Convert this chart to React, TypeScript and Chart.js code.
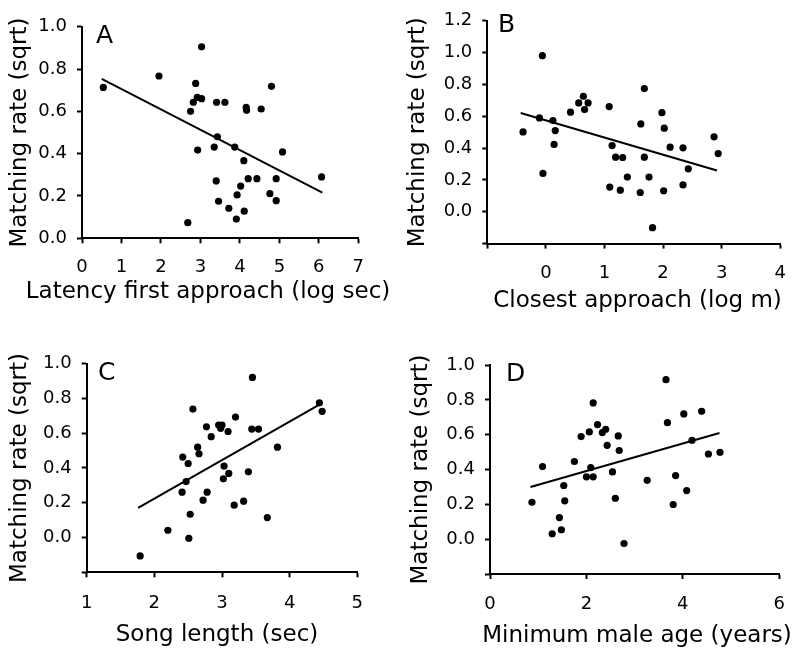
import React, { useEffect, useRef } from "react";
import { Chart, registerables } from "chart.js";
Chart.register(...registerables);

const FONT = "'DejaVu Sans', Verdana, sans-serif";

// ---------- Panel A: latency of first approach ----------
const latencyX = [0.54, 1.95, 3.03, 2.88, 2.82, 2.92, 3.03, 2.75, 3.41, 3.62, 4.8, 4.16, 4.17, 4.54, 3.43, 3.35, 2.93, 3.87, 5.08, 4.1, 3.4, 4.21, 4.43, 4.92, 6.07, 4.02, 3.93, 4.76, 3.46, 4.92, 3.72, 4.11, 3.91, 2.68];
const latencyY = [0.713, 0.767, 0.905, 0.732, 0.643, 0.666, 0.66, 0.6, 0.643, 0.643, 0.718, 0.619, 0.605, 0.611, 0.48, 0.431, 0.417, 0.431, 0.408, 0.367, 0.271, 0.282, 0.282, 0.282, 0.29, 0.247, 0.205, 0.211, 0.175, 0.178, 0.142, 0.128, 0.091, 0.074];
const latencyFitX = [0.5, 6.09];
const latencyFitY = [0.753, 0.216];

// ---------- Panel B: closest approach ----------
const closestX = [-0.39, -0.11, -0.06, -0.05, 0.12, 0.16, 0.14, 0.42, 0.56, 0.64, 0.72, 0.66, 1.08, 1.13, 1.09, 1.19, 1.31, 1.27, 1.39, 1.68, 1.62, 1.68, 1.76, 1.61, 1.98, 2.02, 1.82, 2.12, 2.01, 2.34, 2.43, 2.34, 2.87, 2.94];
const closestY = [0.502, 0.59, 0.981, 0.241, 0.573, 0.51, 0.423, 0.626, 0.684, 0.726, 0.684, 0.642, 0.661, 0.416, 0.155, 0.343, 0.341, 0.136, 0.218, 0.774, 0.552, 0.343, 0.218, 0.121, 0.623, 0.525, -0.1, 0.406, 0.132, 0.402, 0.27, 0.169, 0.471, 0.366];
const closestFitX = [-0.43, 2.92];
const closestFitY = [0.621, 0.259];

// ---------- Panel C: song length ----------
const songX = [1.79, 2.2, 2.51, 2.53, 2.41, 2.47, 2.42, 2.5, 2.57, 2.64, 2.66, 2.72, 2.78, 2.77, 2.84, 2.95, 2.98, 3.0, 3.09, 3.2, 3.03, 3.02, 3.1, 3.18, 3.32, 3.39, 3.45, 3.44, 3.54, 3.67, 3.82, 4.44, 4.48];
const songY = [-0.106, 0.042, -0.004, 0.134, 0.261, 0.322, 0.463, 0.426, 0.739, 0.52, 0.482, 0.215, 0.261, 0.637, 0.58, 0.647, 0.628, 0.647, 0.61, 0.693, 0.411, 0.338, 0.369, 0.186, 0.209, 0.378, 0.921, 0.624, 0.624, 0.115, 0.52, 0.775, 0.726];
const songFitX = [1.76, 4.44];
const songFitY = [0.171, 0.764];

// ---------- Panel D: minimum male age ----------
const ageX = [0.87, 1.09, 1.29, 1.44, 1.48, 1.53, 1.55, 1.75, 1.89, 2.0, 2.06, 2.09, 2.14, 2.14, 2.23, 2.33, 2.4, 2.43, 2.54, 2.6, 2.66, 2.68, 2.78, 3.26, 3.65, 3.68, 3.8, 3.85, 4.02, 4.08, 4.19, 4.39, 4.53, 4.77];
const ageY = [0.212, 0.417, 0.031, 0.124, 0.054, 0.308, 0.22, 0.446, 0.589, 0.358, 0.616, 0.411, 0.782, 0.358, 0.658, 0.612, 0.631, 0.539, 0.386, 0.235, 0.593, 0.509, -0.025, 0.338, 0.916, 0.669, 0.199, 0.365, 0.719, 0.279, 0.568, 0.734, 0.489, 0.499];
const ageFitX = [0.84, 4.76];
const ageFitY = [0.3, 0.61];

const yTitle = "Matching rate (sqrt)";

type PanelDef = {
  letter: string;
  box: { left: number; top: number; width: number; height: number };
  area: { l: number; t: number; r: number; b: number };
  xs: number[];
  ys: number[];
  fitX: number[];
  fitY: number[];
  xMin: number;
  xMax: number;
  xStep: number;
  yMin: number;
  yMax: number;
  hideX: number[];
  hideY: number[];
  xTitle: string;
  xTickPad: number;
  xTitlePos: { x: number; y: number };
  yTitlePad: number;
  letterPos: { x: number; y: number };
};

const panels: PanelDef[] = [
  {
    letter: "A",
    box: { left: 0, top: 0, width: 400, height: 320 },
    area: { l: 82, t: 26.7, r: 358.3, b: 238.3 },
    xs: latencyX, ys: latencyY, fitX: latencyFitX, fitY: latencyFitY,
    xMin: 0, xMax: 7, xStep: 1, yMin: 0, yMax: 1.0,
    hideX: [], hideY: [],
    xTitle: "Latency first approach (log sec)",
    xTickPad: 13.5, xTitlePos: { x: 208, y: 292 }, yTitlePad: 6,
    letterPos: { x: 96, y: 22 },
  },
  {
    letter: "B",
    box: { left: 400, top: 0, width: 400, height: 320 },
    area: { l: 487.3, t: 20, r: 781.7, b: 243.6 },
    xs: closestX, ys: closestY, fitX: closestFitX, fitY: closestFitY,
    xMin: -1, xMax: 4, xStep: 1, yMin: -0.2, yMax: 1.2,
    hideX: [-1], hideY: [-0.2],
    xTitle: "Closest approach (log m)",
    xTickPad: 14, xTitlePos: { x: 637.5, y: 301 }, yTitlePad: 4,
    letterPos: { x: 498, y: 10.5 },
  },
  {
    letter: "C",
    box: { left: 0, top: 320, width: 400, height: 336 },
    area: { l: 86.7, t: 363.7, r: 357.3, b: 572.3 },
    xs: songX, ys: songY, fitX: songFitX, fitY: songFitY,
    xMin: 1, xMax: 5, xStep: 1, yMin: -0.2, yMax: 1.0,
    hideX: [], hideY: [-0.2],
    xTitle: "Song length (sec)",
    xTickPad: 15, xTitlePos: { x: 217, y: 635 }, yTitlePad: 6,
    letterPos: { x: 98, y: 359 },
  },
  {
    letter: "D",
    box: { left: 400, top: 320, width: 400, height: 336 },
    area: { l: 490, t: 365, r: 786, b: 574 },
    xs: ageX, ys: ageY, fitX: ageFitX, fitY: ageFitY,
    xMin: 0, xMax: 6, xStep: 2, yMin: -0.2, yMax: 1.0,
    hideX: [], hideY: [-0.2],
    xTitle: "Minimum male age (years)",
    xTickPad: 15, xTitlePos: { x: 637, y: 636 }, yTitlePad: 7,
    letterPos: { x: 506, y: 360 },
  },
];

const near = (list: number[], v: number) => list.some((h) => Math.abs(h - v) < 1e-6);
const fmtY = (v: number) => (Math.abs(v) < 1e-9 ? 0 : v).toFixed(1);

function Panel({ p }: { p: PanelDef }) {
  const ref = useRef<HTMLCanvasElement | null>(null);
  useEffect(() => {
    if (!ref.current) return;
    const { box, area } = p;
    const points = p.xs.map((x, i) => ({ x, y: p.ys[i] }));
    const fit = p.fitX.map((x, i) => ({ x, y: p.fitY[i] }));
    const xTitlePlugin = {
      id: "xTitleFree",
      afterDraw(chart: any) {
        const ctx = chart.ctx;
        ctx.save();
        ctx.fillStyle = "#000";
        ctx.font = `23px ${FONT}`;
        ctx.textAlign = "center";
        ctx.textBaseline = "middle";
        ctx.fillText(p.xTitle, p.xTitlePos.x - box.left, p.xTitlePos.y - box.top);
        ctx.restore();
      },
    };
    const chart = new Chart(ref.current, {
      type: "scatter",
      data: {
        datasets: [
          {
            data: points,
            backgroundColor: "#000",
            borderColor: "#000",
            borderWidth: 0,
            pointRadius: 3.6,
            showLine: false,
          },
          {
            data: fit,
            borderColor: "#000",
            backgroundColor: "#000",
            borderWidth: 2,
            pointRadius: 0,
            showLine: true,
            fill: false,
          },
        ],
      },
      plugins: [xTitlePlugin],
      options: {
        responsive: false,
        animation: false,
        devicePixelRatio: 1,
        layout: {
          padding: {
            left: 0,
            bottom: 0,
            top: area.t - box.top,
            right: box.left + box.width - area.r,
          },
        },
        plugins: { legend: { display: false }, tooltip: { enabled: false } },
        scales: {
          x: {
            type: "linear",
            min: p.xMin,
            max: p.xMax,
            afterFit: (s: any) => {
              s.height = box.top + box.height - area.b;
            },
            border: { display: true, color: "#000", width: 2 },
            grid: {
              display: true,
              drawOnChartArea: false,
              drawTicks: true,
              tickLength: 5,
              tickColor: "#000",
              tickWidth: 2,
              color: "#000",
            },
            ticks: {
              stepSize: p.xStep,
              padding: p.xTickPad,
              color: "#000",
              font: { family: FONT, size: 18 },
              maxRotation: 0,
              autoSkip: false,
              callback: (v: any) => (near(p.hideX, Number(v)) ? "" : String(Math.round(Number(v)))),
            },
            title: { display: false },
          },
          y: {
            type: "linear",
            min: p.yMin,
            max: p.yMax,
            afterFit: (s: any) => {
              s.width = area.l - box.left;
            },
            border: { display: true, color: "#000", width: 2 },
            grid: {
              display: true,
              drawOnChartArea: false,
              drawTicks: true,
              tickLength: 5,
              tickColor: "#000",
              tickWidth: 2,
              color: "#000",
            },
            ticks: {
              stepSize: 0.2,
              padding: 10,
              color: "#000",
              font: { family: FONT, size: 18 },
              autoSkip: false,
              callback: (v: any) => (near(p.hideY, Number(v)) ? "" : fmtY(Number(v))),
            },
            title: {
              display: true,
              text: yTitle,
              color: "#000",
              font: { family: FONT, size: 23 },
              padding: { top: p.yTitlePad, bottom: 0 },
            },
          },
        },
      },
    } as any);
    return () => chart.destroy();
  }, [p]);

  return (
    <div style={{ position: "absolute", left: p.box.left, top: p.box.top, width: p.box.width, height: p.box.height }}>
      <canvas ref={ref} width={p.box.width} height={p.box.height} style={{ display: "block" }} />
      <div
        style={{
          position: "absolute",
          left: p.letterPos.x - p.box.left,
          top: p.letterPos.y - p.box.top,
          fontFamily: FONT,
          fontSize: 25,
          lineHeight: 1,
          color: "#000",
        }}
      >
        {p.letter}
      </div>
    </div>
  );
}

export default function App() {
  return (
    <div style={{ position: "fixed", left: 0, top: 0, width: 800, height: 656, background: "#fff" }}>
      {panels.map((p) => (
        <Panel key={p.letter} p={p} />
      ))}
    </div>
  );
}
